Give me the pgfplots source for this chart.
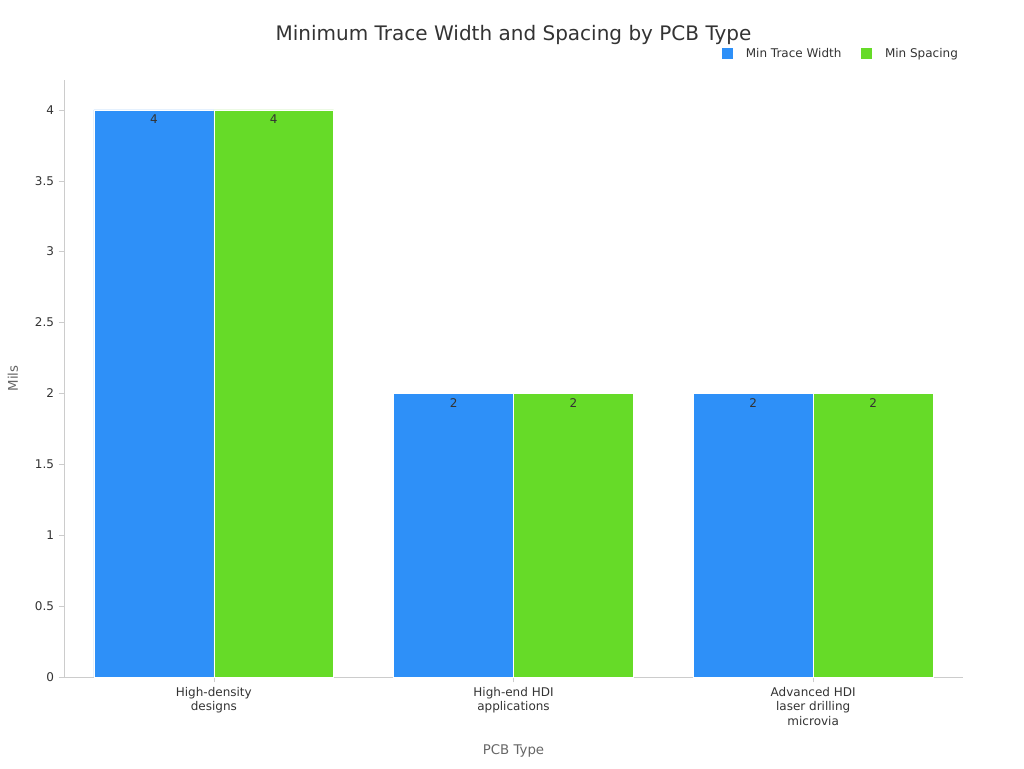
\documentclass[border=0pt]{standalone}
\usepackage{fontspec}
\setmainfont{DejaVu Sans}
\usepackage{pgfplots}
\pgfplotsset{compat=1.18}
\definecolor{barBlue}{HTML}{2E90F8}
\definecolor{barGreen}{HTML}{66DB28}
\definecolor{axisGrey}{HTML}{CCCCCC}
\definecolor{txtDark}{HTML}{333333}
\definecolor{txtGrey}{HTML}{666666}

\begin{document}
\begin{tikzpicture}
\useasboundingbox (-48pt,-68.25pt) rectangle (720pt,507.75pt);
\begin{axis}[
  at={(0,0)}, anchor=south west,
  scale only axis, width=674.25pt, height=447.75pt,
  ybar=0pt, bar width=0.4,
  xmin=-0.5, xmax=2.5, ymin=0, ymax=4.21,
  xtick={0,1,2},
  xticklabels={High-density\\designs, High-end HDI\\applications, Advanced HDI\\laser drilling\\microvia},
  xticklabel style={align=center, font=\fontsize{9}{11}\selectfont, text=txtDark},
  ytick={0,0.5,...,4},
  yticklabel style={font=\fontsize{9}{11}\selectfont, text=txtDark},
  /pgf/number format/assume math mode=true,
  axis lines*=left,
  axis line style={axisGrey},
  tick style={axisGrey},
  major tick length=4pt,
  tick align=outside,
  xlabel={PCB Type}, ylabel={Mils},
  xlabel style={at={(rel axis cs:0.5,-0.124)}, anchor=center, font=\fontsize{10}{12}\selectfont, text=txtGrey},
  ylabel style={at={(rel axis cs:-0.0567,0.5)}, anchor=center, font=\fontsize{10}{12}\selectfont, text=txtGrey},
  nodes near coords,
  nodes near coords style={anchor=north, font=\fontsize{9}{11}\selectfont, text=txtDark},
  clip=false,
  legend columns=2,
  legend style={draw=none, fill=none, at={(rel axis cs:1.002,1.044)}, anchor=east,
    font=\fontsize{9}{11}\selectfont, text=txtDark,
    /tikz/every even column/.append style={column sep=11.75pt}},
  legend image code/.code={\fill[#1] (0pt,-4.5pt) rectangle (9pt,4.5pt); \path (9pt,0) -- (16.5pt,0);},
]
\addplot+[fill=barBlue, draw=white, line width=0.4pt] coordinates {(0,4) (1,2) (2,2)};
\addplot+[fill=barGreen, draw=white, line width=0.4pt] coordinates {(0,4) (1,2) (2,2)};
\legend{Min Trace Width, Min Spacing}
\node[font=\fontsize{15}{18}\selectfont, text=txtDark] at (rel axis cs:0.5,1.076) {Minimum Trace Width and Spacing by PCB Type};
\end{axis}
\end{tikzpicture}
\end{document}
